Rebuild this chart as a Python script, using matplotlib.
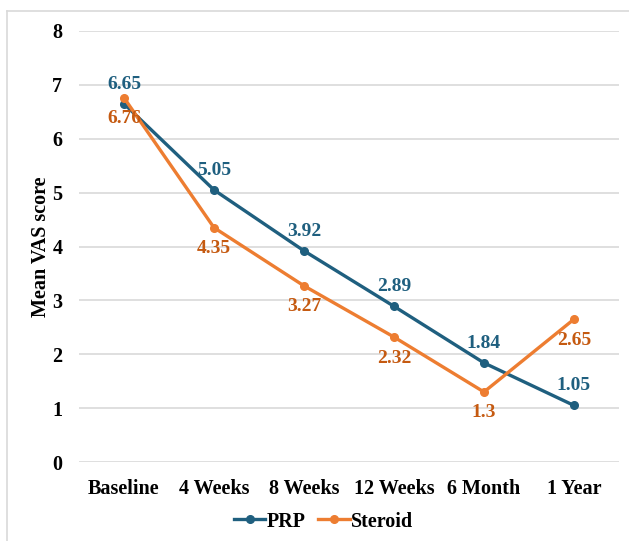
import matplotlib.pyplot as plt
from matplotlib.lines import Line2D

# donnees
periodes = ["Baseline", "4 Weeks", "8 Weeks", "12 Weeks", "6 Month", "1 Year"]
prp = [6.65, 5.05, 3.92, 2.89, 1.84, 1.05]
steroid = [6.76, 4.35, 3.27, 2.32, 1.3, 2.65]
etiquettes_prp = ["6.65", "5.05", "3.92", "2.89", "1.84", "1.05"]
etiquettes_steroid = ["6.76", "4.35", "3.27", "2.32", "1.3", "2.65"]

bleu = "#1F5F7F"
orange = "#ED7D31"
orange_texte = "#C55A11"

plt.rcParams["font.family"] = ["Liberation Serif", "DejaVu Serif"]
plt.rcParams["font.weight"] = "bold"

fig = plt.figure(figsize=(6.29, 5.41), dpi=100)
ax = fig.add_axes([0.1256, 0.146, 0.8584, 0.7967])

x = list(range(len(periodes)))
ax.plot(x, prp, color=bleu, linewidth=2.4, marker="o", markersize=5.5, label="PRP", zorder=3)
ax.plot(x, steroid, color=orange, linewidth=2.4, marker="o", markersize=5.5, label="Steroid", zorder=3)

# etiquettes des valeurs
for xi, v, t in zip(x, prp, etiquettes_prp):
    ax.annotate(t, (xi, v), xytext=(0, 8), textcoords="offset points",
                ha="center", va="bottom", color=bleu, fontsize=14, fontweight="bold")
for xi, v, t in zip(x, steroid, etiquettes_steroid):
    ax.annotate(t, (xi, v), xytext=(0, -9), textcoords="offset points",
                ha="center", va="top", color=orange_texte, fontsize=14, fontweight="bold")

ax.set_xlim(-0.5, len(periodes) - 0.5)
ax.set_ylim(0, 8)
ax.set_yticks(range(0, 9))
ax.set_xticks(x)
ax.set_xticklabels(periodes)
ax.tick_params(axis="both", length=0, labelsize=14.5)
ax.tick_params(axis="y", pad=12)
ax.tick_params(axis="x", pad=12)
for lbl in ax.get_xticklabels() + ax.get_yticklabels():
    lbl.set_fontweight("bold")
ax.grid(axis="y", color="#D9D9D9", linewidth=1.2)
ax.set_axisbelow(True)
for s in ax.spines.values():
    s.set_visible(False)
ax.set_ylabel("Mean VAS score", fontsize=14.5, fontweight="bold", labelpad=1)

poignees = [Line2D([], [], color=bleu, linewidth=2.4, marker="o", markersize=5.5),
            Line2D([], [], color=orange, linewidth=2.4, marker="o", markersize=5.5)]
fig.legend(poignees, ["PRP", "Steroid"], loc="center", bbox_to_anchor=(0.514, 0.036),
           ncol=2, frameon=False, prop={"size": 14.5, "weight": "bold"},
           handlelength=1.55, handletextpad=0.05, columnspacing=0.65)

# cadre autour du graphique
fig.add_artist(Line2D([7 / 629, 7 / 629], [0, 1 - 11 / 541], color="#D9D9D9", linewidth=1.2))
fig.add_artist(Line2D([7 / 629, 1], [1 - 11 / 541, 1 - 11 / 541], color="#D9D9D9", linewidth=1.2))

fig.savefig("out.png", dpi=100)
